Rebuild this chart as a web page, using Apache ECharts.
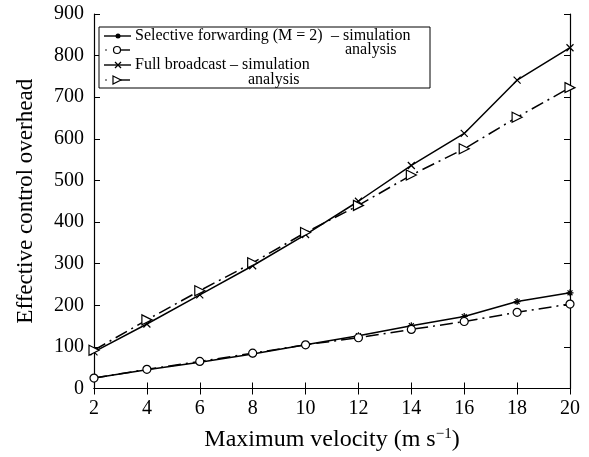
<!DOCTYPE html>
<html>
<head>
<meta charset="utf-8">
<script src="https://cdn.jsdelivr.net/npm/echarts@6/dist/echarts.min.js"></script>
<style>
  html, body { margin: 0; padding: 0; background: #fff; }
  #chart { width: 589px; height: 457px; }
</style>
</head>
<body>
<div id="chart"></div>
<script>
// data
const velocity = [2, 4, 6, 8, 10, 12, 14, 16, 18, 20];
const selectiveSim = [25, 45, 63, 83, 105, 127, 151, 173, 209, 230];
const selectiveAna = [25, 46, 65, 85, 105, 122, 142, 161, 183, 203];
const broadcastSim = [88, 155, 225, 295, 370, 450, 536, 613, 741, 819];
const broadcastAna = [92, 165, 235, 302, 375, 440, 513, 576, 652, 723];

const FONT = 'Liberation Serif';
const DASHDOT = [13, 5, 2, 5];

const ASTER = 'path://M5,0L5,10M0,5L10,5M1.5,1.5L8.5,8.5M8.5,1.5L1.5,8.5';
const CROSS = 'path://M0,0L10,10M10,0L0,10';
const TRI = 'path://M0,0L10,5L0,10Z';

const pairs = arr => velocity.map((v, i) => [v, arr[i]]);

const mkSeries = (name, arr, symbol, size, dashed, hollow) => ({
    name,
    type: 'line',
    data: pairs(arr),
    symbol,
    symbolSize: size,
    showAllSymbol: true,
    lineStyle: { color: '#000', width: 1.5, type: dashed ? DASHDOT : 'solid' },
    itemStyle: { color: hollow ? '#fff' : '#000', borderColor: '#000', borderWidth: 1.2 },
    emphasis: { disabled: true },
    animation: false,
    z: 3
});

// hand-drawn legend (the original has an odd two column text layout)
const legendBox = (() => {
    const x0 = 99, y0 = 27, w = 331, h = 61;
    const rows = [36, 50, 65, 80];
    const els = [{
        type: 'rect', shape: { x: x0, y: y0, width: w, height: h },
        style: { fill: '#fff', stroke: '#000', lineWidth: 1 }, z: 10
    }];
    rows.forEach((y, i) => {
        if (i % 2 === 1) {
            els.push({ type: 'circle', shape: { cx: 106, cy: y, r: 0.8 }, style: { fill: '#000' }, z: 11 });
            els.push({ type: 'line', shape: { x1: 114, y1: y, x2: 130, y2: y }, style: { stroke: '#000', lineWidth: 1.4 }, z: 11 });
        } else {
            els.push({ type: 'line', shape: { x1: 104, y1: y, x2: 131, y2: y }, style: { stroke: '#000', lineWidth: 1.4 }, z: 11 });
        }
    });
    // markers
    els.push({ type: 'circle', shape: { cx: 118, cy: rows[0], r: 2.5 }, style: { fill: '#000' }, z: 12 });
    els.push({ type: 'circle', shape: { cx: 117, cy: rows[1], r: 3.5 }, style: { fill: '#fff', stroke: '#000', lineWidth: 1.2 }, z: 12 });
    els.push({ type: 'polyline', shape: { points: [[115, rows[2] - 3], [121, rows[2] + 3]] }, style: { stroke: '#000', lineWidth: 1.2 }, z: 12 });
    els.push({ type: 'polyline', shape: { points: [[121, rows[2] - 3], [115, rows[2] + 3]] }, style: { stroke: '#000', lineWidth: 1.2 }, z: 12 });
    els.push({ type: 'polygon', shape: { points: [[113, rows[3] - 4], [121, rows[3]], [113, rows[3] + 4]] }, style: { fill: '#fff', stroke: '#000', lineWidth: 1.2 }, z: 12 });
    const txt = (x, y, s) => ({
        type: 'text', x, y, z: 12,
        style: { text: s, font: '16px "' + FONT + '"', fill: '#000', verticalAlign: 'middle' }
    });
    els.push(txt(135, rows[0], 'Selective forwarding (M = 2)'));
    els.push(txt(331, rows[0], '\u2013 simulation'));
    els.push(txt(345, rows[1], 'analysis'));
    els.push(txt(135, rows[2], 'Full broadcast \u2013 simulation'));
    els.push(txt(248, rows[3], 'analysis'));
    return els;
})();

const chart = echarts.init(document.getElementById('chart'));

const tickAxis = {
    min: 0, max: 900, interval: 100,
    axisLine: { show: true, lineStyle: { color: '#000', width: 1.2 } },
    axisTick: { show: true, inside: true, length: 6, lineStyle: { color: '#000', width: 1 } },
    splitLine: { show: false }
};

chart.setOption({
    backgroundColor: '#fff',
    animation: false,
    grid: { left: 94, right: 19, top: 14, bottom: 68 },
    xAxis: [{
        type: 'value', min: 2, max: 20, interval: 2,
        name: 'Maximum velocity (m s{sup|\u22121})',
        nameLocation: 'middle', nameGap: 38,
        nameTextStyle: {
            fontFamily: FONT, fontSize: 24, color: '#000',
            rich: { sup: { fontFamily: FONT, fontSize: 15, color: '#000', verticalAlign: 'top', padding: [0, 0, 12, 0] } }
        },
        axisLine: { show: true, lineStyle: { color: '#000', width: 1.2 } },
        axisTick: { show: true, inside: true, length: 6, lineStyle: { color: '#000' } },
        axisLabel: { fontFamily: FONT, fontSize: 20, color: '#000', margin: 10 },
        splitLine: { show: false }
    }, {
        type: 'value', min: 2, max: 20, interval: 2, position: 'top',
        axisLine: { show: true, lineStyle: { color: '#000', width: 1.2 } },
        axisTick: { show: true, inside: true, length: 6, lineStyle: { color: '#000' } },
        axisLabel: { show: false },
        splitLine: { show: false }
    }],
    yAxis: [Object.assign({}, tickAxis, {
        type: 'value',
        name: 'Effective control overhead',
        nameLocation: 'middle', nameGap: 57,
        nameTextStyle: { fontFamily: FONT, fontSize: 23, color: '#000' },
        axisLabel: { fontFamily: FONT, fontSize: 20, color: '#000', margin: 10 }
    }), Object.assign({}, tickAxis, {
        type: 'value', position: 'right',
        axisLabel: { show: false }
    })],
    series: [
        mkSeries('Selective forwarding (M = 2) - simulation', selectiveSim, ASTER, 7, false, false),
        mkSeries('Selective forwarding (M = 2) - analysis', selectiveAna, 'circle', 8, true, true),
        mkSeries('Full broadcast - simulation', broadcastSim, CROSS, 7, false, false),
        mkSeries('Full broadcast - analysis', broadcastAna, TRI, 10, true, true)
    ],
    graphic: legendBox
});
</script>
</body>
</html>
